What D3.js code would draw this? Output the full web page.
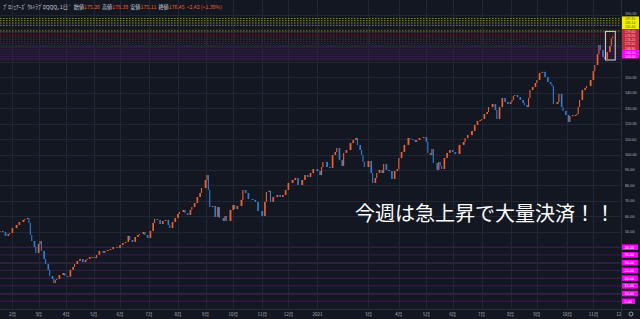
<!DOCTYPE html>
<html>
<head>
<meta charset="utf-8">
<script src="https://cdn.jsdelivr.net/npm/d3@7"></script>
<style>
html, body { margin: 0; padding: 0; background: #131722; overflow: hidden; }
svg { display: block; font-family: "Noto Sans CJK JP", "Noto Sans", sans-serif; }
.num { font-family: "Liberation Sans", "DejaVu Sans", sans-serif; }
</style>
</head>
<body>
<div id="mainbox"></div>
<script>
// [trading-day index, close]
const candles = [
  [0,50.5],[2,49.8],[4,47.3],[6,48.5],[7,49.2],[9,52.4],[12,54.4],[14,56.3],[17,57.6],[18,58.3],
  [20,58.9],[21,55.7],[22,47.9],[23,44.0],[25,40.1],[26,36.3],[28,42.1],[29,44.0],[30,37.6],[32,32.4],
  [33,29.1],[35,25.3],[36,21.4],[38,19.4],[39,16.8],[40,18.8],[41,19.4],[43,22.0],[46,23.3],[47,21.4],
  [49,21.0],[51,25.3],[53,27.2],[54,29.1],[56,31.1],[58,32.4],[60,30.4],[62,31.7],[63,32.4],[65,33.7],
  [67,33.7],[69,33.0],[70,35.0],[72,37.6],[75,36.3],[76,37.6],[78,38.2],[80,38.8],[82,40.1],[85,39.5],
  [87,41.4],[89,42.7],[91,43.4],[93,47.3],[94,44.7],[96,43.4],[98,46.6],[100,47.9],[101,48.5],[104,49.8],
  [105,47.9],[107,46.0],[109,50.5],[111,55.7],[112,58.3],[114,57.6],[116,55.0],[118,57.0],[120,57.6],[122,54.4],
  [123,52.4],[125,56.3],[127,58.9],[129,61.5],[130,62.8],[133,64.1],[134,62.1],[136,60.9],[138,64.1],[139,66.0],
  [141,68.6],[143,72.5],[145,75.1],[146,78.3],[149,83.5],[150,86.7],[151,77.0],[152,66.0],[154,66.7],[156,59.6],
  [158,66.0],[159,58.9],[162,57.0],[163,60.2],[164,57.0],[167,64.1],[169,67.3],[170,64.7],[172,66.7],[175,70.6],
  [176,77.0],[178,75.1],[180,71.2],[183,70.6],[185,69.3],[187,63.4],[190,60.2],[192,69.3],[193,75.7],[195,76.5],
  [196,69.3],[198,72.5],[201,73.8],[203,72.5],[205,73.8],[207,77.0],[209,81.6],[212,83.5],[214,84.8],[216,80.3],
  [219,83.5],[221,86.7],[223,85.4],[225,88.0],[227,90.6],[230,89.3],[232,86.7],[233,91.9],[234,95.2],[237,91.9],
  [239,91.3],[241,99.7],[243,101.6],[244,104.2],[246,96.4],[248,92.6],[249,101.0],[251,102.9],[254,107.4],[256,109.4],
  [258,110.7],[259,106.2],[261,102.9],[262,99.7],[263,95.2],[264,91.9],[267,95.8],[269,88.0],[270,81.6],[272,84.8],
  [273,88.0],[275,90.0],[277,88.0],[278,93.9],[280,90.0],[282,89.3],[284,84.2],[286,89.3],[288,90.6],[289,97.7],
  [291,101.6],[293,106.2],[296,110.7],[297,110.0],[299,109.4],[301,108.1],[302,109.4],[304,110.7],[307,111.3],[309,108.1],
  [310,101.0],[312,99.7],[313,103.6],[314,94.5],[317,90.0],[318,95.2],[319,92.6],[320,90.6],[322,97.7],[324,101.0],
  [326,102.9],[328,101.6],[330,100.3],[333,106.2],[336,108.1],[337,110.7],[339,112.6],[342,115.2],[344,119.1],[346,121.7],
  [348,122.3],[349,123.0],[351,126.2],[353,127.5],[354,130.7],[357,132.7],[359,128.8],[360,123.0],[362,130.7],[364,136.6],
  [366,134.0],[368,132.7],[370,134.0],[371,135.3],[372,137.9],[373,138.5],[375,137.2],[377,135.3],[379,133.3],[380,132.0],
  [382,130.7],[383,136.6],[384,141.7],[386,143.7],[388,146.3],[389,148.2],[391,152.8],[393,153.5],[395,150.2],[397,146.9],
  [399,145.6],[400,144.3],[401,132.7],[404,134.0],[405,139.2],[407,130.7],[408,128.2],[410,125.6],[412,121.0],[413,124.9],
  [415,125.5],[417,125.6],[418,126.2],[419,130.7],[420,135.3],[422,141.7],[424,143.0],[425,144.3],[428,148.2],[430,154.0],
  [431,157.9],[433,165.0],[434,170.9],[435,167.6],[437,163.1],[438,161.8],[440,166.3],[442,170.2],[443,175.3],[444,176.45]
];
const thisWeekFrom = 438;

const monthTicks = [
  [9,"2月"],[28,"3月"],[48,"4月"],[68,"5月"],[87,"6月"],[108,"7月"],[129,"8月"],[149,"9月"],[169,"10月"],
  [190,"11月"],[209,"12月"],[230,"2021"],[267,"3月"],[289,"4月"],[309,"5月"],[328,"6月"],[349,"7月"],
  [370,"8月"],[389,"9月"],[411,"10月"],[430,"11月"],[450,"12月"]
];
const priceTicks = [190,150,140,130,120,110,100,90,80,70,60,50];
const gridLevels = d3.range(10, 200, 10);

// order levels (lines)
const yellowLevels = [188.0, 186.6, 185.1, 183.6];
const brownLevels = [180.4, 179.3];
const redLevels = [177.4, 176.0, 174.6, 173.2, 171.8];
const purpleLevels = [170.6, 169.4, 168.2, 167.0, 165.8, 164.6, 163.4, 162.2, 161.2];
const lowLevels = [40, 35, 30, 25, 20, 15, 10, 5];
// order levels (axis labels)
const yellowLabels = [187.8, 185.1, 182.4];
const redLabels = [179.6, 176.9, 174.2, 171.5, 168.8];
const magentaLabels = [166.1, 163.4];

const header = {
  title: "ﾌﾟﾛｼｪｱｰｽﾞ ｳﾙﾄﾗﾌﾟﾛQQQ, 1日 ˅",
  fields: [["始値","175.26"],["高値","178.39"],["安値","175.11"],["終値","176.45"]],
  change: "+2.42 (+1.39%)"
};
const message = "今週は急上昇で大量決済！！";

const W = 640, H = 319;
const plotR = 621, plotB = 309;

const svg = d3.select('#mainbox').append('svg')
  .attr('width', W).attr('height', H);

svg.append('rect').attr('width', W).attr('height', H).attr('fill', '#131722');

const x = d3.scaleLinear().domain([0, 450]).range([0, plotR]);
const y = d3.scaleLinear().domain([0, 200]).range([plotB, 0]);

const plot = svg.append('g');

// grid
plot.selectAll('.hgrid').data(gridLevels).enter().append('line')
  .attr('x1', 0).attr('x2', plotR)
  .attr('y1', d => Math.round(y(d)) + 0.5).attr('y2', d => Math.round(y(d)) + 0.5)
  .attr('stroke', '#222632').attr('stroke-width', 1);
plot.selectAll('.vgrid').data(monthTicks).enter().append('line')
  .attr('x1', d => Math.round(x(d[0])) + 0.5).attr('x2', d => Math.round(x(d[0])) + 0.5)
  .attr('y1', 0).attr('y2', plotB)
  .attr('stroke', '#222632').attr('stroke-width', 1);

function levelLines(data, color, dash, op) {
  plot.append('g').selectAll('line').data(data).enter().append('line')
    .attr('x1', 0).attr('x2', plotR)
    .attr('y1', d => y(d)).attr('y2', d => y(d))
    .attr('stroke', color).attr('stroke-width', 1)
    .attr('stroke-dasharray', dash)
    .attr('opacity', op);
}
levelLines(purpleLevels, '#3b1d4c', null, 0.9);
levelLines(yellowLevels, '#9a9a1a', '1.5,1.5', 0.9);
levelLines(brownLevels, '#7a5e3c', '1.5,1.5', 0.9);
levelLines(redLevels, '#7e1f2e', '1.5,1.5', 0.9);
levelLines(lowLevels, '#3f1b50', null, 1);

// candles
const up = '#f0602e', down = '#2c7fd6';
const cData = candles.map((d, i) => {
  const prev = i > 0 ? candles[i - 1] : [d[0] - 1, d[1]];
  return {bar: d[0], prevBar: prev[0], open: prev[1], close: d[1]};
});
const cw = d => Math.min(1.9, Math.max(1.1, (x(d.bar) - x(d.prevBar)) * 0.6));
plot.append('g').selectAll('rect').data(cData).enter().append('rect')
  .attr('x', d => x(d.bar) - cw(d) / 2)
  .attr('width', cw)
  .attr('y', d => y(Math.max(d.open, d.close)))
  .attr('height', d => Math.max(1, Math.abs(y(d.open) - y(d.close))))
  .attr('fill', d => d.close >= d.open ? up : down);

// this week box
const wk = candles.filter(d => d[0] >= thisWeekFrom);
const wkLo = d3.min(wk, d => d[1]), wkHi = d3.max(wk, d => d[1]);
plot.append('rect')
  .attr('x', x(thisWeekFrom) + 1).attr('width', x(d3.max(wk, d => d[0])) - x(thisWeekFrom) + 1.5)
  .attr('y', y(wkHi) - 5).attr('height', y(wkLo) - y(wkHi) + 6)
  .attr('fill', 'none').attr('stroke', '#d8d8d8').attr('stroke-width', 1);

// borders
svg.append('line').attr('x1', 0).attr('x2', W).attr('y1', plotB + 0.5).attr('y2', plotB + 0.5)
  .attr('stroke', '#2a2e39');
svg.append('line').attr('x1', plotR + 0.5).attr('x2', plotR + 0.5).attr('y1', 0).attr('y2', H)
  .attr('stroke', '#2a2e39');

// time axis
const timeAxis = svg.append('g');
timeAxis.append('clipPath').attr('id', 'tclip').append('rect')
  .attr('x', 0).attr('y', plotB).attr('width', plotR).attr('height', H - plotB);
timeAxis.append('g').attr('clip-path', 'url(#tclip)')
  .selectAll('text').data(monthTicks).enter().append('text')
  .attr('x', d => x(d[0])).attr('y', 315.5)
  .attr('text-anchor', 'middle')
  .attr('font-size', 4.5)
  .attr('fill', '#b2b5be')
  .text(d => d[1]);

// price axis
const fmt = d3.format('.2f');
svg.append('g').selectAll('text').data(priceTicks).enter().append('text')
  .attr('class', 'num')
  .attr('x', 625).attr('y', d => y(d) + (d === 190 ? -0.6 : 1.5))
  .attr('font-size', 3.8).attr('fill', '#b2b5be')
  .text(d => fmt(d));

function labelStack(levels, fill, textColor) {
  const g = svg.append('g');
  const hi = d3.max(levels), lo = d3.min(levels);
  g.append('rect')
    .attr('x', plotR + 1).attr('y', y(hi) - 2.4)
    .attr('width', 17).attr('height', y(lo) - y(hi) + 4.4)
    .attr('fill', fill);
  g.selectAll('text').data(levels).enter().append('text')
    .attr('class', 'num')
    .attr('x', plotR + 4).attr('y', d => y(d) + 1.3)
    .attr('font-size', 3.4).attr('fill', textColor)
    .text(d => fmt(d));
}
labelStack(yellowLabels, '#f2f200', '#5a5a00');
labelStack(redLabels, '#c8283c', '#f4d0d6');
labelStack(magentaLabels, '#ff00ff', '#ffe0ff');

svg.append('g').selectAll('g').data(lowLevels).enter().append('g')
  .each(function(d) {
    const g = d3.select(this);
    const wdt = d < 10 ? 13 : 16;
    g.append('rect').attr('x', plotR + 1).attr('y', y(d) - 2.8)
      .attr('width', wdt).attr('height', 5.6).attr('fill', '#ff00ff');
    g.append('text').attr('class', 'num').attr('x', plotR + 3.5).attr('y', y(d) + 1.4)
      .attr('font-size', 3.8).attr('fill', '#ffffff').text(fmt(d));
  });

// settings icon
svg.append('circle').attr('cx', 631).attr('cy', 314).attr('r', 2)
  .attr('fill', 'none').attr('stroke', '#b2b5be').attr('stroke-width', 0.8);

// header
const hd = svg.append('text').attr('x', 3).attr('y', 9).attr('font-size', 5.2);
hd.append('tspan').attr('fill', '#d1d4dc').text(header.title + '   ');
header.fields.forEach(f => {
  hd.append('tspan').attr('fill', '#d1d4dc').attr('dx', 2).text(f[0]);
  hd.append('tspan').attr('fill', '#f0602e').text(f[1]);
});
hd.append('tspan').attr('fill', '#f0602e').attr('dx', 2).text(header.change);

// message
svg.append('text')
  .attr('x', 355).attr('y', 221)
  .attr('font-size', 20)
  .attr('fill', '#ffffff')
  .text(message);
</script>
</body>
</html>
